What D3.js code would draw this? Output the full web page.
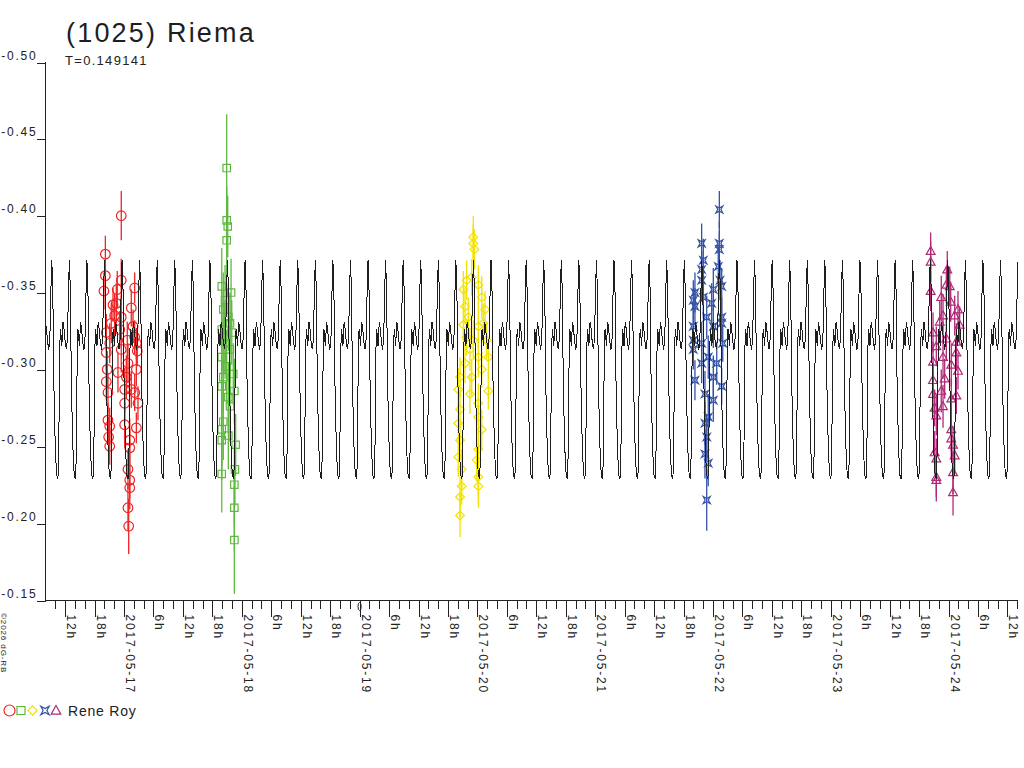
<!DOCTYPE html>
<html>
<head>
<meta charset="utf-8">
<script src="https://cdn.jsdelivr.net/npm/d3@7"></script>
<style>
  html, body { margin: 0; padding: 0; background: #fff; }
  svg { display: block; font-family: "Liberation Sans", Arial, sans-serif; }
  .axis path, .axis line { stroke: #222; shape-rendering: crispEdges; }
  .axis text { fill: #222; }
</style>
</head>
<body>
<div id="chart"></div>
<script>
// ---- data (day of May 2017 UT, magnitude, error) ----
var title = '(1025) Riema';
var periodLabel = 'T=0.149141';
var period = 0.149141;        // days
var epochMin = 19.1265;       // time of a light-curve minimum
var zeroDay = 19;             // phase-zero marker on the time axis
var observer = 'Rene Roy';

// one cycle of the fitted light curve, phase from minimum
var shapePhase = [0, 0.03, 0.06, 0.11, 0.15, 0.19, 0.23, 0.30, 0.36, 0.42, 0.49, 0.55, 0.62, 0.66, 0.72, 0.77, 0.83, 0.88, 0.94];
var shapeMag = [-0.229, -0.233, -0.252, -0.313, -0.326, -0.322, -0.315, -0.331, -0.326, -0.318, -0.313, -0.320, -0.356, -0.371, -0.350, -0.295, -0.262, -0.243, -0.231];

var night1 = [
  [16.981, -0.400, 0.016], [16.846, -0.375, 0.012], [16.846, -0.361, 0.010], [16.834, -0.351, 0.012],
  [16.981, -0.358, 0.014], [16.947, -0.352, 0.012], [17.095, -0.353, 0.010], [16.939, -0.343, 0.013],
  [16.911, -0.342, 0.011], [17.066, -0.340, 0.012], [16.925, -0.335, 0.014], [17.081, -0.328, 0.011],
  [16.854, -0.324, 0.012], [16.883, -0.317, 0.013], [17.032, -0.319, 0.012], [17.109, -0.317, 0.010],
  [16.854, -0.311, 0.011], [16.981, -0.313, 0.015], [17.117, -0.312, 0.010], [16.862, -0.300, 0.012],
  [17.109, -0.300, 0.011], [16.854, -0.292, 0.012], [16.868, -0.285, 0.013], [17.010, -0.287, 0.014],
  [17.095, -0.285, 0.012], [17.010, -0.278, 0.012], [16.868, -0.267, 0.011], [16.883, -0.263, 0.012],
  [16.874, -0.256, 0.013], [17.010, -0.264, 0.015], [17.109, -0.262, 0.010], [16.883, -0.250, 0.012],
  [17.053, -0.254, 0.014], [17.053, -0.249, 0.012], [17.038, -0.235, 0.013], [17.053, -0.228, 0.012],
  [17.053, -0.223, 0.014], [17.038, -0.210, 0.015], [17.044, -0.198, 0.018], [16.896, -0.330, 0.013],
  [16.968, -0.326, 0.012], [17.038, -0.304, 0.013], [17.024, -0.295, 0.014], [17.066, -0.287, 0.012],
  [16.981, -0.334, 0.014], [17.095, -0.321, 0.011], [16.953, -0.298, 0.013], [17.123, -0.278, 0.011]
];
var night2 = [
  [17.876, -0.431, 0.035], [17.876, -0.397, 0.022], [17.885, -0.393, 0.020], [17.876, -0.384, 0.024],
  [17.834, -0.354, 0.025], [17.913, -0.350, 0.022], [17.847, -0.339, 0.024], [17.904, -0.330, 0.020],
  [17.834, -0.326, 0.026], [17.919, -0.324, 0.021], [17.862, -0.317, 0.023], [17.904, -0.313, 0.022],
  [17.834, -0.308, 0.025], [17.876, -0.302, 0.024], [17.847, -0.295, 0.022], [17.932, -0.297, 0.020],
  [17.834, -0.289, 0.026], [17.890, -0.282, 0.022], [17.941, -0.286, 0.021], [17.904, -0.276, 0.023],
  [17.847, -0.266, 0.025], [17.834, -0.261, 0.024], [17.890, -0.257, 0.022], [17.834, -0.254, 0.026],
  [17.952, -0.251, 0.020], [17.946, -0.235, 0.024], [17.834, -0.232, 0.025], [17.941, -0.225, 0.026],
  [17.941, -0.210, 0.028], [17.941, -0.189, 0.035], [17.862, -0.345, 0.023], [17.890, -0.334, 0.022],
  [17.862, -0.321, 0.024]
];
var night3 = [
  [19.969, -0.386, 0.014], [19.969, -0.382, 0.012], [19.978, -0.378, 0.013], [19.956, -0.360, 0.012],
  [19.913, -0.358, 0.013], [19.899, -0.341, 0.012], [20.041, -0.347, 0.014], [20.069, -0.339, 0.012],
  [19.927, -0.334, 0.013], [19.885, -0.329, 0.012], [20.012, -0.328, 0.014], [20.054, -0.330, 0.013],
  [19.913, -0.321, 0.012], [19.969, -0.319, 0.013], [20.083, -0.319, 0.012], [19.941, -0.313, 0.014],
  [20.012, -0.308, 0.013], [20.097, -0.308, 0.012], [19.899, -0.304, 0.013], [20.041, -0.300, 0.012],
  [19.857, -0.295, 0.013], [19.956, -0.295, 0.012], [19.842, -0.287, 0.014], [19.941, -0.284, 0.013],
  [20.097, -0.286, 0.012], [20.012, -0.278, 0.013], [19.857, -0.274, 0.012], [19.842, -0.265, 0.013],
  [20.012, -0.269, 0.012], [20.041, -0.261, 0.013], [19.857, -0.254, 0.012], [19.842, -0.243, 0.013],
  [20.012, -0.248, 0.012], [19.998, -0.241, 0.014], [19.871, -0.235, 0.013], [19.871, -0.224, 0.012],
  [20.012, -0.230, 0.013], [20.012, -0.224, 0.014], [19.857, -0.217, 0.013], [19.857, -0.205, 0.014],
  [20.012, -0.355, 0.013], [19.885, -0.352, 0.012]
];
var night4 = [
  [22.058, -0.404, 0.012], [21.908, -0.382, 0.013], [22.058, -0.382, 0.014], [22.058, -0.378, 0.012],
  [21.922, -0.371, 0.014], [22.049, -0.367, 0.013], [21.908, -0.365, 0.012], [22.064, -0.358, 0.013],
  [21.908, -0.358, 0.014], [21.851, -0.350, 0.013], [22.007, -0.352, 0.014], [22.078, -0.354, 0.012],
  [21.837, -0.345, 0.013], [21.922, -0.347, 0.014], [21.993, -0.343, 0.013], [21.851, -0.341, 0.012],
  [22.078, -0.334, 0.013], [21.951, -0.334, 0.014], [21.837, -0.328, 0.013], [22.007, -0.328, 0.014],
  [22.078, -0.330, 0.012], [21.837, -0.319, 0.013], [21.908, -0.317, 0.014], [22.087, -0.317, 0.012],
  [21.837, -0.313, 0.013], [21.964, -0.308, 0.014], [21.908, -0.304, 0.013], [22.036, -0.304, 0.014],
  [21.851, -0.293, 0.013], [22.007, -0.295, 0.014], [22.078, -0.289, 0.012], [21.936, -0.284, 0.015],
  [22.007, -0.280, 0.014], [21.964, -0.269, 0.015], [21.936, -0.265, 0.014], [21.951, -0.256, 0.015],
  [21.936, -0.245, 0.016], [21.964, -0.239, 0.015], [21.951, -0.215, 0.020]
];
var night5 = [
  [23.852, -0.377, 0.012], [23.852, -0.370, 0.013], [23.993, -0.365, 0.012], [23.852, -0.351, 0.013],
  [23.985, -0.355, 0.012], [24.014, -0.354, 0.013], [23.942, -0.347, 0.014], [24.022, -0.344, 0.013],
  [24.084, -0.339, 0.012], [23.957, -0.335, 0.014], [24.056, -0.335, 0.013], [24.098, -0.329, 0.012],
  [23.929, -0.331, 0.014], [23.872, -0.324, 0.013], [23.985, -0.320, 0.014], [24.070, -0.318, 0.012],
  [23.900, -0.315, 0.013], [24.070, -0.311, 0.012], [23.957, -0.308, 0.014], [23.872, -0.305, 0.013],
  [24.027, -0.303, 0.014], [24.084, -0.299, 0.012], [23.971, -0.294, 0.013], [23.872, -0.293, 0.012],
  [23.872, -0.284, 0.013], [23.942, -0.286, 0.014], [24.070, -0.283, 0.012], [24.027, -0.281, 0.013],
  [23.957, -0.276, 0.014], [23.886, -0.275, 0.012], [23.900, -0.270, 0.013], [24.027, -0.261, 0.014],
  [24.027, -0.255, 0.013], [24.042, -0.251, 0.012], [23.886, -0.246, 0.014], [23.900, -0.242, 0.013],
  [24.056, -0.244, 0.012], [24.042, -0.233, 0.014], [23.900, -0.230, 0.013], [23.900, -0.228, 0.014],
  [24.042, -0.220, 0.015]
];

var nights = [night1, night2, night3, night4, night5];
var colors = ['#ee2424', '#5fb83e', '#f2e200', '#3352a6', '#b02a78'];
var shapes = ['circle', 'square', 'diamond', 'star', 'triangle'];

var xDomain = [16.3336, 24.5934];
var yTicks = [-0.50, -0.45, -0.40, -0.35, -0.30, -0.25, -0.20, -0.15];

// ---- layout ----
var width = 1024, height = 768;
var plotLeft = 45, plotRight = 1018, plotTop = 62, plotBottom = 600;

var svg = d3.select('#chart').append('svg')
  .attr('width', width).attr('height', height);

var x = d3.scaleLinear().domain(xDomain).range([plotLeft, plotRight]);
var y = d3.scaleLinear().domain([-0.50, -0.15]).range([plotTop, plotBottom]);

function markerPath(shape, s) {
  if (shape === 'circle') {
    return 'M' + s + ',0A' + s + ',' + s + ' 0 1,1 ' + (-s) + ',0A' + s + ',' + s + ' 0 1,1 ' + s + ',0Z';
  }
  if (shape === 'square') {
    return 'M' + (-s) + ',' + (-s) + 'H' + s + 'V' + s + 'H' + (-s) + 'Z';
  }
  if (shape === 'diamond') {
    return 'M0,' + (-s) + 'L' + s + ',0L0,' + s + 'L' + (-s) + ',0Z';
  }
  if (shape === 'star') {
    var i = s * 0.45;
    return 'M' + (-s) + ',' + (-s) + 'L0,' + (-i) + 'L' + s + ',' + (-s) + 'L' + i + ',0L' + s + ',' + s +
      'L0,' + i + 'L' + (-s) + ',' + s + 'L' + (-i) + ',0Z';
  }
  // triangle
  return 'M0,' + (-s * 1.05) + 'L' + s + ',' + (s * 0.75) + 'L' + (-s) + ',' + (s * 0.75) + 'Z';
}
var markerSize = { circle: 4.8, square: 3.7, diamond: 4.4, star: 3.5, triangle: 4.4 };

// ---- observations ----
var plot = svg.append('g');
nights.forEach(function (pts, k) {
  var g = plot.append('g').attr('stroke', colors[k]).attr('fill', 'none');
  g.selectAll('line.err').data(pts).enter().append('line')
    .attr('class', 'err')
    .attr('x1', function (d) { return x(d[0]); })
    .attr('x2', function (d) { return x(d[0]); })
    .attr('y1', function (d) { return y(d[1] - d[2]); })
    .attr('y2', function (d) { return y(d[1] + d[2]); })
    .attr('stroke-width', 1.3);
  g.selectAll('path.pt').data(pts).enter().append('path')
    .attr('class', 'pt')
    .attr('transform', function (d) { return 'translate(' + x(d[0]) + ',' + y(d[1]) + ')'; })
    .attr('d', markerPath(shapes[k], markerSize[shapes[k]]))
    .attr('stroke-width', 1.2);
});

// ---- fitted curve, one measured cycle repeated with the period ----
var model = [];
var k0 = Math.floor((xDomain[0] - epochMin) / period) - 1;
var k1 = Math.ceil((xDomain[1] - epochMin) / period) + 1;
for (var k = k0; k <= k1; k++) {
  for (var j = 0; j < shapePhase.length; j++) {
    model.push([epochMin + (k + shapePhase[j]) * period, shapeMag[j]]);
  }
}
svg.append('clipPath').attr('id', 'clip').append('rect')
  .attr('x', plotLeft).attr('y', plotTop - 10)
  .attr('width', plotRight - plotLeft).attr('height', plotBottom - plotTop + 10);
svg.append('path')
  .datum(model)
  .attr('clip-path', 'url(#clip)')
  .attr('fill', 'none')
  .attr('stroke', '#1e1e1e')
  .attr('stroke-width', 1)
  .attr('shape-rendering', 'crispEdges')
  .attr('d', d3.line().x(function (d) { return x(d[0]); }).y(function (d) { return y(d[1]); }));

// ---- axes ----
var yAxis = svg.append('g').attr('class', 'axis')
  .attr('transform', 'translate(' + (plotLeft + 0.5) + ',0)')
  .call(d3.axisLeft(y).tickValues(yTicks).tickSizeOuter(0).tickSize(9)
    .tickFormat(function (d) { return d.toFixed(2); }));
yAxis.selectAll('text')
  .attr('font-size', 12).attr('letter-spacing', '1.8px')
  .attr('x', -8).attr('dy', '-0.25em');
yAxis.select('.domain').attr('d', 'M0,' + plotTop + 'V' + plotBottom);
yAxis.selectAll('.tick line').attr('transform', 'translate(0,0.5)');

var tickStep = 1 / 12;  // 2 hours
var minorTicks = d3.range(Math.ceil(xDomain[0] / tickStep) * tickStep, xDomain[1] + 1e-6, tickStep);
var majorTicks = minorTicks.filter(function (d) {
  var h = Math.round((d - Math.floor(d + 1e-6)) * 24);
  return h % 6 === 0;
});
function tickLabel(d) {
  var day = Math.floor(d + 1e-6);
  var h = Math.round((d - day) * 24);
  if (h === 0 || h === 24) return '2017-05-' + (h === 24 ? day + 1 : day);
  return h + 'h';
}

var xMinor = svg.append('g').attr('class', 'axis')
  .attr('transform', 'translate(0,' + (plotBottom + 0.5) + ')')
  .call(d3.axisBottom(x).tickValues(minorTicks).tickSize(8).tickSizeOuter(0).tickFormat(''));
xMinor.select('.domain').attr('d', 'M' + plotLeft + ',0H' + plotRight);
xMinor.selectAll('.tick line').attr('transform', 'translate(0.5,0)');

var xMajor = svg.append('g').attr('class', 'axis')
  .attr('transform', 'translate(0,' + (plotBottom + 0.5) + ')')
  .call(d3.axisBottom(x).tickValues(majorTicks).tickSize(16).tickSizeOuter(0).tickFormat(tickLabel));
xMajor.select('.domain').remove();
xMajor.selectAll('.tick line').attr('transform', 'translate(0.5,0)');
xMajor.selectAll('text')
  .attr('font-size', 12).attr('letter-spacing', '1.8px')
  .attr('text-anchor', 'start')
  .attr('y', 0).attr('dy', 0)
  .attr('transform', 'translate(2,14) rotate(90)');

// small phase-zero mark on the time axis
svg.append('ellipse')
  .attr('cx', x(zeroDay) + 0.5).attr('cy', plotBottom + 6.5)
  .attr('rx', 1.6).attr('ry', 4)
  .attr('fill', 'none').attr('stroke', '#222').attr('stroke-width', 1);

// ---- titles ----
svg.append('text').attr('x', 66).attr('y', 42)
  .attr('font-size', 27).attr('letter-spacing', '2.2px').attr('fill', '#1e1e1e')
  .text(title);
svg.append('text').attr('x', 65).attr('y', 65)
  .attr('font-size', 13).attr('letter-spacing', '1.3px').attr('fill', '#222')
  .text(periodLabel);

// ---- copyright ----
svg.append('text')
  .attr('transform', 'translate(1,613) rotate(90)')
  .attr('font-size', 8).attr('letter-spacing', '0.9px').attr('fill', '#222')
  .text('\u00a92026 dG-RB');

// ---- legend ----
var legendX = [9.5, 21, 32.5, 45, 56];
var legendSize = { circle: 5.5, square: 4, diamond: 4.6, star: 4.2, triangle: 4.8 };
shapes.forEach(function (s, i) {
  svg.append('path')
    .attr('transform', 'translate(' + legendX[i] + ',710.5)')
    .attr('d', markerPath(s, legendSize[s]))
    .attr('fill', 'none').attr('stroke', colors[i]).attr('stroke-width', 1.2);
});
svg.append('text').attr('x', 68).attr('y', 716)
  .attr('font-size', 14).attr('letter-spacing', '0.8px').attr('fill', '#222')
  .text(observer);
</script>
</body>
</html>
